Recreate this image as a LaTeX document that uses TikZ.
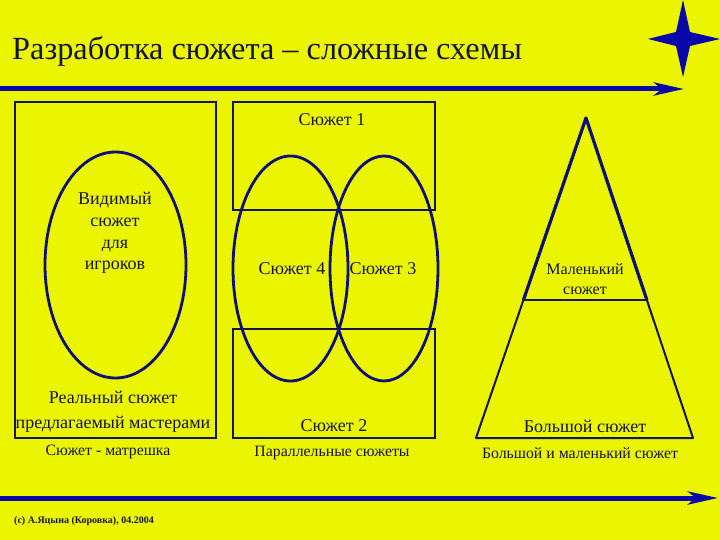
\documentclass[tikz,border=0pt]{standalone}
\usepackage{fontspec}
\setmainfont{Liberation Serif}
\usetikzlibrary{shapes.geometric,arrows.meta,calc}
\definecolor{slideyellow}{RGB}{236,245,0}
\definecolor{boxnavy}{RGB}{20,20,80}
\definecolor{ovalnavy}{RGB}{15,15,120}
\definecolor{starblue}{RGB}{8,8,170}
\definecolor{inknavy}{RGB}{20,20,55}
\tikzset{%
  plotbox/.style   = {shape=rectangle, draw=boxnavy, line width=2pt,%
                      inner sep=0pt},%
  plotoval/.style  = {shape=ellipse, draw=ovalnavy, line width=2.8pt,%
                      inner sep=0pt},%
  plotlabel/.style = {text=inknavy, align=center, inner sep=0pt,%
                      font=\fontsize{18}{22}\selectfont},%
  schemecap/.style = {text=inknavy, inner sep=0pt,%
                      font=\fontsize{15.8}{18}\selectfont},%
  timeline/.style  = {draw=starblue, line width=5pt,%
                      -{Stealth[length=30pt,width=13pt,inset=8pt]}}%
}

\begin{document}
\begin{tikzpicture}
  [x=1pt,y=-1pt]
  \fill[slideyellow] (0,0) rectangle (720,540);
  \useasboundingbox (0,0) rectangle (720,540);
  % title and star
  \node [anchor=base west, inner sep=0pt, text=inknavy,
         font=\fontsize{32.3}{36}\selectfont] (title) at (12,60)
    {Разработка сюжета – сложные схемы};
  \fill[starblue] (683,0) -- (690,32) -- (720,39) -- (690,46) -- (683,77)
    -- (676,46) -- (648,39) -- (676,32) -- cycle;
  \coordinate (topstart) at (0,89);
  \coordinate (topend) at (684,89);
  \draw[timeline] (topstart) -- (topend);
  % matreshka
  \node [plotbox, minimum width=201pt, minimum height=336pt] (matr) at (115.5,270) {};
  \node [plotoval, minimum width=141pt, minimum height=226pt] (seen) at (115.5,265) {};
  \node [plotlabel, font=\fontsize{18}{21.8}\selectfont] (seentext) at (115,233)
    {Видимый\\сюжет\\для\\игроков};
  \node [plotlabel, font=\fontsize{18}{25}\selectfont] (real) at (113,412)
    {Реальный сюжет\\предлагаемый мастерами};
  \node [schemecap] (capmatr) at (108,452) {Сюжет - матрешка};
  % parallel plots
  \node [plotbox, minimum width=202pt, minimum height=108pt] (plot1) at (334,156) {};
  \node [plotbox, minimum width=202pt, minimum height=109pt] (plot2) at (334,383.5) {};
  \node [plotoval, minimum width=115pt, minimum height=225pt] (plot4) at (290.5,268.5) {};
  \node [plotoval, minimum width=108pt, minimum height=225pt] (plot3) at (384,268.5) {};
  \node [plotlabel] at (332,120) {Сюжет 1};
  \node [plotlabel] at (292,269) {Сюжет 4};
  \node [plotlabel] at (383,269) {Сюжет 3};
  \node [plotlabel] at (334,426) {Сюжет 2};
  \node [schemecap] (cappar) at (332,453) {Параллельные сюжеты};
  % big and small plot
  \coordinate (apex) at (586,118);
  \coordinate (baseL) at (476,438);
  \coordinate (baseR) at (693,438);
  \coordinate (cutL) at ($(apex)!0.569!(baseL)$);
  \coordinate (cutR) at ($(apex)!0.569!(baseR)$);
  \draw[boxnavy, line width=2pt, line join=round] (apex) -- (baseL) -- (baseR) -- cycle;
  \draw[ovalnavy, line width=3.2pt, line join=round] (cutL) -- (apex) -- (cutR);
  \draw[boxnavy, line width=2pt] (cutL) -- (cutR);
  \node [plotlabel, font=\fontsize{16}{20}\selectfont] (small) at (585,279)
    {Маленький\\сюжет};
  \node [plotlabel] (big) at (585,426) {Большой сюжет};
  \node [schemecap] (capbig) at (580,453) {Большой и маленький сюжет};
  % footer
  \coordinate (botstart) at (0,498);
  \coordinate (botend) at (718,498);
  \draw[timeline] (botstart) -- (botend);
  \node [anchor=base west, inner sep=0pt, text=inknavy,
         font=\fontsize{10}{11}\selectfont\bfseries] (copy) at (14,523)
    {(c) А.Яцына (Коровка), 04.2004};
\end{tikzpicture}
\end{document}
